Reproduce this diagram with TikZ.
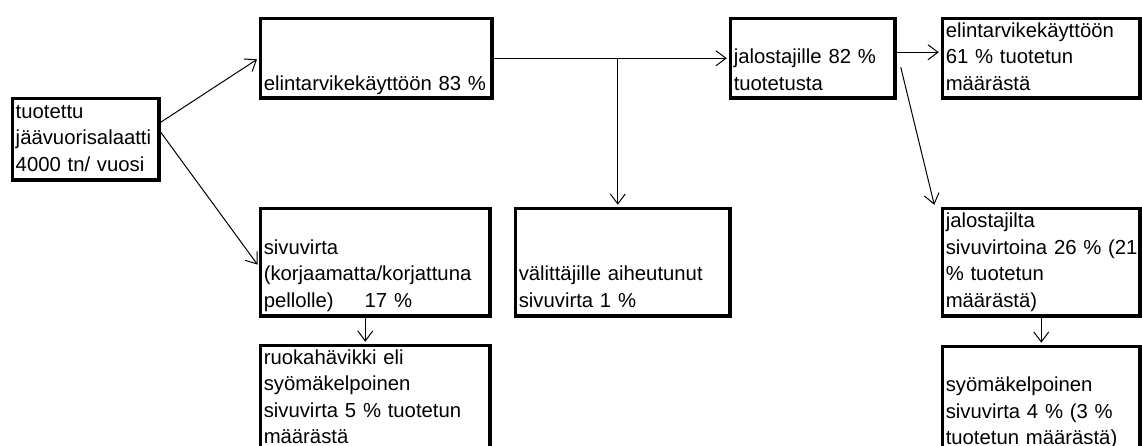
\documentclass[tikz,border=0pt]{standalone}
\usepackage{fontspec}
\setmainfont{Liberation Sans}
\usetikzlibrary{arrows.meta,calc}
\tikzset{>={Straight Barb[length=10pt,width=15pt]}}
\tikzset{box/.style={draw, line width=3.5pt, anchor=north west, align=left,
  inner xsep=3.25pt, inner ysep=0pt, font=\fontsize{20.3}{26.5}\selectfont,
  execute at begin node=\strut, execute at end node=\strut},
  flow/.style={->, shorten >=2pt}}

\begin{document}
\begin{tikzpicture}[x=1pt,y=-1pt,line width=1pt]
\useasboundingbox (0,0) rectangle (1142,446);
\node[box,text width=140pt,minimum height=81.5pt] (tuotettu) at (10.75,96.75) {tuotettu\\jäävuorisalaatti\\4000 tn/ vuosi};
\node[box,text width=225pt,minimum height=78.5pt] (elintarvike) at (258.75,16.75) {\strut\\\strut\\elintarvikekäyttöön 83 \%};
\node[box,text width=158pt,minimum height=78.5pt] (jalostajille) at (728.75,16.75) {\strut\\jalostajille 82 \%\\tuotetusta};
\node[box,text width=191pt,minimum height=78.5pt] (kaytto) at (940.75,16.75) {elintarvikekäyttöön\\61 \% tuotetun\\määrästä};
\node[box,text width=223pt,minimum height=107.5pt] (sivuvirta) at (258.75,206.75) {\strut\\sivuvirta\\(korjaamatta/korjattuna\\pellolle)\hspace{31pt}17 \%};
\node[box,text width=208pt,minimum height=107.5pt] (valittajat) at (513.75,206.75) {\strut\\\strut\\välittäjille aiheutunut\\sivuvirta 1 \%};
\node[box,text width=191pt,minimum height=107.5pt] (jalostajilta) at (940.75,206.75) {jalostajilta\\\mbox{sivuvirtoina 26 \% (21}\\\% tuotetun\\määrästä)};
\node[box,text width=223pt] (ruokahavikki) at (258.75,343.75) {ruokahävikki eli\\syömäkelpoinen\\sivuvirta 5 \% tuotetun\\määrästä};
\node[box,text width=191pt] (syomakelpoinen) at (940.75,344.75) {\strut\\syömäkelpoinen\\sivuvirta 4 \% (3 \%\\tuotetun määrästä)};
\coordinate (split) at ($(valittajat.north |- elintarvike.east)+(-5,0)$);
\draw[flow] ([yshift=17pt]tuotettu.east) -- (elintarvike.west);
\draw[flow] ([yshift=7pt]tuotettu.east) -- ([yshift=-4pt]sivuvirta.west);
\draw[flow] (elintarvike.east) -- (jalostajille.west);
\draw[flow] (split) -- (split |- valittajat.north);
\draw[flow] ([yshift=6pt]jalostajille.east) -- ([yshift=6pt]kaytto.west);
\draw[flow] ([xshift=4pt,yshift=-9pt]jalostajille.east) -- ([xshift=-6pt]jalostajilta.north west);
\draw[flow] ([xshift=-10pt]sivuvirta.south) -- ([xshift=-10pt]ruokahavikki.north);
\draw[flow] (jalostajilta.south) -- (syomakelpoinen.north);
\end{tikzpicture}
\end{document}
